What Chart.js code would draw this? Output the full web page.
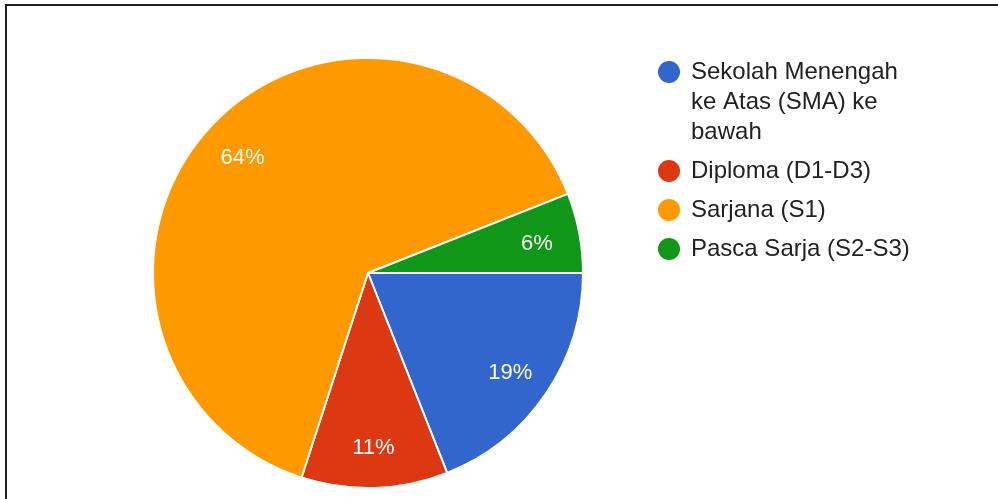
<!DOCTYPE html>
<html>
<head>
<meta charset="utf-8">
<script src="https://cdn.jsdelivr.net/npm/chart.js@4"></script>
<style>
    html, body { margin: 0; padding: 0; background: #fff; }
    #wrap { position: relative; width: 998px; height: 499px; }
    #frame {
        position: absolute; left: 5px; top: 4px; right: 0; bottom: 0;
        border-top: 2px solid #1e1e1e; border-left: 2px solid #1e1e1e;
        pointer-events: none;
    }
</style>
</head>
<body>
<div id="wrap">
    <canvas id="pieChart" width="998" height="499"></canvas>
    <div id="frame"></div>
</div>
<script>
const categories = [
    ['Sekolah Menengah', 'ke Atas (SMA) ke', 'bawah'],
    'Diploma (D1-D3)',
    'Sarjana (S1)',
    'Pasca Sarja (S2-S3)'
];
const shares = [19, 11, 64, 6];
const sliceColors = ['#3366cc', '#dc3912', '#ff9900', '#109618'];

// percentage text inside each slice
const sliceLabels = {
    id: 'sliceLabels',
    afterDatasetsDraw(chart) {
        const { ctx } = chart;
        const meta = chart.getDatasetMeta(0);
        ctx.save();
        ctx.font = '22px "Liberation Sans", Arial, sans-serif';
        ctx.fillStyle = '#ffffff';
        ctx.textAlign = 'center';
        ctx.textBaseline = 'middle';
        meta.data.forEach((arc, i) => {
            const mid = (arc.startAngle + arc.endAngle) / 2;
            const r = arc.outerRadius * 0.8;
            ctx.fillText(shares[i] + '%', arc.x + Math.cos(mid) * r, arc.y + Math.sin(mid) * r + 3);
        });
        ctx.restore();
    }
};

// legend on the right, with wrapped first entry
const sideLegend = {
    id: 'sideLegend',
    afterDraw(chart) {
        const { ctx } = chart;
        const x = 669, textX = 691;
        let y = 72;
        ctx.save();
        ctx.font = '24px "Liberation Sans", Arial, sans-serif';
        ctx.textBaseline = 'middle';
        chart.data.labels.forEach((label, i) => {
            const lines = Array.isArray(label) ? label : [label];
            ctx.beginPath();
            ctx.arc(x, y, 11, 0, Math.PI * 2);
            ctx.fillStyle = sliceColors[i];
            ctx.fill();
            ctx.fillStyle = '#222222';
            lines.forEach((line, j) => ctx.fillText(line, textX, y + j * 30));
            y += (lines.length - 1) * 30 + 39;
        });
        ctx.restore();
    }
};

new Chart(document.getElementById('pieChart').getContext('2d'), {
    type: 'pie',
    data: {
        labels: categories,
        datasets: [{
            data: shares,
            backgroundColor: sliceColors,
            borderColor: '#ffffff',
            borderWidth: 2
        }]
    },
    options: {
        responsive: false,
        animation: false,
        rotation: 90,
        layout: { padding: { left: 152, right: 414, top: 57, bottom: 10 } },
        plugins: {
            legend: { display: false },
            tooltip: { enabled: false }
        }
    },
    plugins: [sliceLabels, sideLegend]
});
</script>
</body>
</html>
